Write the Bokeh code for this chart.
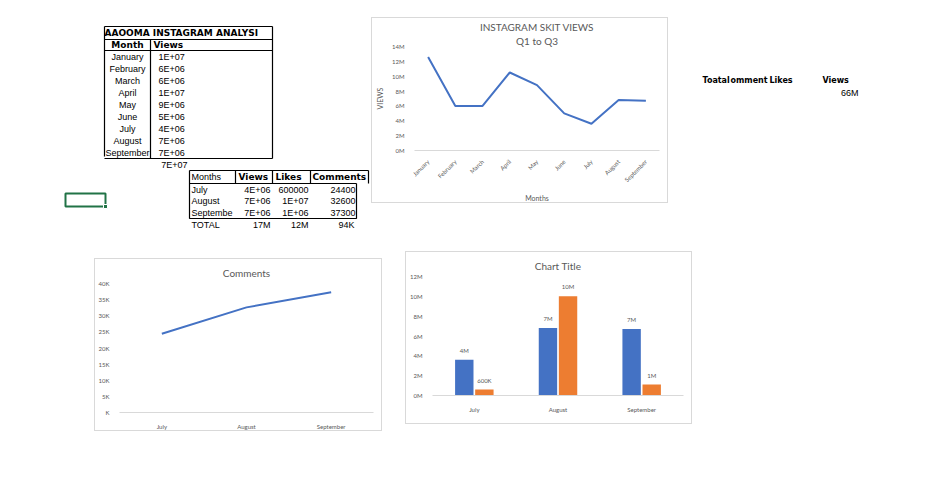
from bokeh.plotting import figure
from bokeh.layouts import row, column, Spacer
from bokeh.models import (ColumnDataSource, FixedTicker, CustomJSTickFormatter,
                          Title, Legend, LegendItem)
from bokeh.transform import dodge
from bokeh.core.properties import value
from bokeh.embed import file_html
from bokeh.resources import INLINE
import math

# ---- data ----
MONTHS = ["January", "February", "March", "April", "May", "June",
          "July", "August", "September"]
MONTH_VIEWS = [12.6e6, 6.0e6, 6.0e6, 10.5e6, 8.8e6, 5.0e6, 3.6e6, 6.8e6, 6.7e6]

Q3_MONTHS = ["July", "August", "September"]
Q3_VIEWS = [3.6e6, 6.8e6, 6.7e6]
Q3_LIKES = [600000, 10.0e6, 1.1e6]
Q3_COMMENTS = [24400, 32600, 37300]

BLUE = "#4472C4"
ORANGE = "#ED7D31"
GREY = "#595959"
FONT = "Lato"
CELL_FONT = "Liberation Sans"


def general(v):
    # mimic Excel "General" in a narrow column
    if len(str(int(v))) <= 6:
        return str(int(v))
    return f"{v:.0E}"


def short(v):
    if v >= 1e6:
        return f"{round(v / 1e6):.0f}M"
    return f"{round(v / 1e3):.0f}K"


def blank(p):
    p.axis.visible = False
    p.grid.visible = False
    p.outline_line_color = None
    p.min_border = 0


def chart_style(p):
    p.styles = {"border": "1px solid #d9d9d9", "box-sizing": "border-box"}
    p.outline_line_color = None
    p.grid.visible = False
    p.yaxis.axis_line_color = None
    p.yaxis.major_tick_line_color = None
    p.yaxis.minor_tick_line_color = None
    p.xaxis.axis_line_color = "#d9d9d9"
    p.xaxis.major_tick_line_color = None
    p.xaxis.minor_tick_line_color = None
    p.axis.major_label_text_color = GREY
    p.axis.major_label_text_font = FONT
    p.axis.major_label_text_font_size = "6px"
    p.axis.axis_label_text_color = GREY
    p.axis.axis_label_text_font = FONT
    p.axis.axis_label_text_font_style = "normal"
    p.axis.axis_label_text_font_size = "7px"
    p.axis.major_label_standoff = 4


def title_style(t):
    t.align = "center"
    t.text_font = FONT
    t.text_font_style = "normal"
    t.text_font_size = "10px"
    t.text_color = GREY


# ---- spreadsheet cells (left block) ----
cells = figure(width=371, height=232, x_range=(0, 371), y_range=(232, 0),
               output_backend="svg", toolbar_location=None, tools="")
blank(cells)

# table 1
t1_rows = [50 + 12 * i for i in range(len(MONTHS))]
cells.segment(x0=[104, 104, 104, 104, 104, 272, 150],
              y0=[26, 39, 50, 158, 26, 26, 39],
              x1=[272, 272, 272, 272, 104, 272, 150],
              y1=[26, 39, 50, 158, 156, 158, 158],
              line_color="black", line_width=1.2)
cells.text(x=[104], y=[32.5], text=["AAOOMA INSTAGRAM ANALYSI"],
           text_font=value("DejaVu Sans"), text_font_style="bold",
           text_font_size="9px", text_baseline="middle")
cells.text(x=[127, 153], y=[44.5, 44.5], text=["Month", "Views"],
           text_font=value("DejaVu Sans"), text_font_style="bold",
           text_font_size="9px", text_baseline="middle",
           text_align=["center", "left"])
cells.text(x=[127] * len(MONTHS), y=[r + 6 for r in t1_rows], text=MONTHS,
           text_font=value(CELL_FONT), text_font_size="9px",
           text_baseline="middle", text_align="center")
cells.text(x=[158] * len(MONTHS), y=[r + 6 for r in t1_rows],
           text=[general(v) for v in MONTH_VIEWS],
           text_font=value(CELL_FONT), text_font_size="9px",
           text_baseline="middle")
cells.text(x=[187], y=[164], text=[general(sum(MONTH_VIEWS))],
           text_font=value(CELL_FONT), text_font_size="9px",
           text_baseline="middle", text_align="right")

# table 2
cells.segment(x0=[189, 189, 189, 189, 189, 235, 272, 310, 368, 356],
              y0=[170, 183, 218, 170, 218, 170, 170, 170, 170, 183],
              x1=[368, 356, 356, 189, 356, 235, 272, 310, 368, 356],
              y1=[170, 183, 218, 218, 218, 183, 183, 183, 183, 218],
              line_color="black", line_width=1.2)
cells.text(x=[191], y=[176.5], text=["Months"], text_font=value(CELL_FONT),
           text_font_size="9px", text_baseline="middle")
cells.text(x=[238, 275, 312], y=[176.5] * 3,
           text=["Views", "Likes", "Comments"],
           text_font=value("DejaVu Sans"), text_font_style="bold",
           text_font_size="9px", text_baseline="middle")
t2_names = ["July", "August", "Septembe"]
t2_y = [189, 200.5, 212]
cells.text(x=[191] * 3, y=t2_y, text=t2_names, text_font=value(CELL_FONT),
           text_font_size="9px", text_baseline="middle")
for col, xr in ((Q3_VIEWS, 270), (Q3_LIKES, 308), (Q3_COMMENTS, 355)):
    cells.text(x=[xr] * 3, y=t2_y, text=[general(v) for v in col],
               text_font=value(CELL_FONT), text_font_size="9px",
               text_baseline="middle", text_align="right")
cells.text(x=[191, 270, 308, 354], y=[224.5] * 4,
           text=["TOTAL", short(sum(Q3_VIEWS)), short(sum(Q3_LIKES)),
                 short(sum(Q3_COMMENTS))],
           text_font=value(CELL_FONT), text_font_size="9px",
           text_baseline="middle",
           text_align=["left", "right", "right", "right"])

# selected cell
cells.rect(x=[85], y=[199.5], width=40, height=13, fill_color=None,
           line_color="#217346", line_width=2)
cells.rect(x=[105], y=[206], width=4, height=4, fill_color="#217346",
           line_color="white", line_width=1)

# ---- views line chart ----
vp = figure(width=297, height=186, x_range=MONTHS, y_range=(0, 14e6),
            output_backend="svg", toolbar_location=None, tools="",
            min_border_left=8, min_border_right=10, min_border_top=4,
            min_border_bottom=2)
t_sub = Title(text="Q1 to Q3", standoff=0, offset=0)
t_main = Title(text="INSTAGRAM SKIT VIEWS", standoff=0, offset=0)
title_style(t_sub)
title_style(t_main)
vp.add_layout(t_sub, "above")
vp.add_layout(t_main, "above")
vp.line(x=MONTHS, y=MONTH_VIEWS, line_color=BLUE, line_width=2)
chart_style(vp)
vp.yaxis.ticker = FixedTicker(ticks=[i * 2e6 for i in range(8)])
vp.yaxis.formatter = CustomJSTickFormatter(code="return (tick/1e6) + 'M';")
vp.xaxis.major_label_orientation = math.pi / 4
vp.yaxis.axis_label = "VIEWS"
vp.xaxis.axis_label = "Months"

# ---- right cells ----
rc = figure(width=250, height=232, x_range=(0, 250), y_range=(232, 0),
            output_backend="svg", toolbar_location=None, tools="")
blank(rc)
rc.text(x=[34, 62, 101, 154], y=[80] * 4,
        text=["Toatal", "omment", "Likes", "Views"],
        text_font=value("DejaVu Sans"), text_font_style="bold",
        text_font_size="8px", text_baseline="middle")
rc.text(x=[190], y=[92], text=[short(sum(MONTH_VIEWS))],
        text_font=value(CELL_FONT), text_font_size="9px",
        text_baseline="middle", text_align="right")

# ---- comments line chart ----
cp = figure(width=288, height=173, x_range=Q3_MONTHS, y_range=(0, 40000),
            output_backend="svg", toolbar_location=None, tools="",
            min_border_left=8, min_border_right=10, min_border_top=12,
            min_border_bottom=8, title="Comments")
title_style(cp.title)
cp.line(x=Q3_MONTHS, y=Q3_COMMENTS, line_color=BLUE, line_width=2)
chart_style(cp)
cp.yaxis.ticker = FixedTicker(ticks=[i * 5000 for i in range(9)])
cp.yaxis.formatter = CustomJSTickFormatter(
    code="return tick == 0 ? 'K' : (tick/1000) + 'K';")

# ---- views / likes bar chart ----
src = ColumnDataSource(dict(
    m=Q3_MONTHS, views=Q3_VIEWS, likes=Q3_LIKES,
    vlab=[short(v) for v in Q3_VIEWS], llab=[short(v) for v in Q3_LIKES]))
bp = figure(width=287, height=173, x_range=Q3_MONTHS, y_range=(0, 12e6),
            output_backend="svg", toolbar_location=None, tools="",
            min_border_left=8, min_border_right=10, min_border_top=6,
            min_border_bottom=30, title="Chart Title")
title_style(bp.title)
rv = bp.vbar(x=dodge("m", -0.12, range=bp.x_range), top="views", width=0.22,
             source=src, fill_color=BLUE, line_color=None)
rl = bp.vbar(x=dodge("m", 0.12, range=bp.x_range), top="likes", width=0.22,
             source=src, fill_color=ORANGE, line_color=None)
for off, fld, lab in ((-0.12, "views", "vlab"), (0.12, "likes", "llab")):
    bp.text(x=dodge("m", off, range=bp.x_range), y=fld, text=lab, source=src,
            text_font=value(FONT), text_font_size="6px", text_color=GREY,
            text_align="center", text_baseline="bottom", y_offset=-6)
chart_style(bp)
bp.yaxis.ticker = FixedTicker(ticks=[i * 2e6 for i in range(7)])
bp.yaxis.formatter = CustomJSTickFormatter(code="return (tick/1e6) + 'M';")
leg = Legend(items=[LegendItem(label="Views", renderers=[rv]),
                    LegendItem(label="Likes", renderers=[rl])],
             orientation="horizontal", location=(100, -32),
             label_text_font=FONT, label_text_font_size="6px",
             label_text_color=GREY, glyph_width=5, glyph_height=5,
             label_standoff=2, spacing=8, padding=0, margin=0,
             label_height=6, border_line_color=None, background_fill_alpha=0)
bp.add_layout(leg)

layout = column(
    row(cells, column(Spacer(height=17), vp), rc),
    row(Spacer(width=94), column(Spacer(height=26), cp),
        Spacer(width=23), column(Spacer(height=19), bp)),
)

open("out.html", "w").write(file_html(layout, INLINE))
